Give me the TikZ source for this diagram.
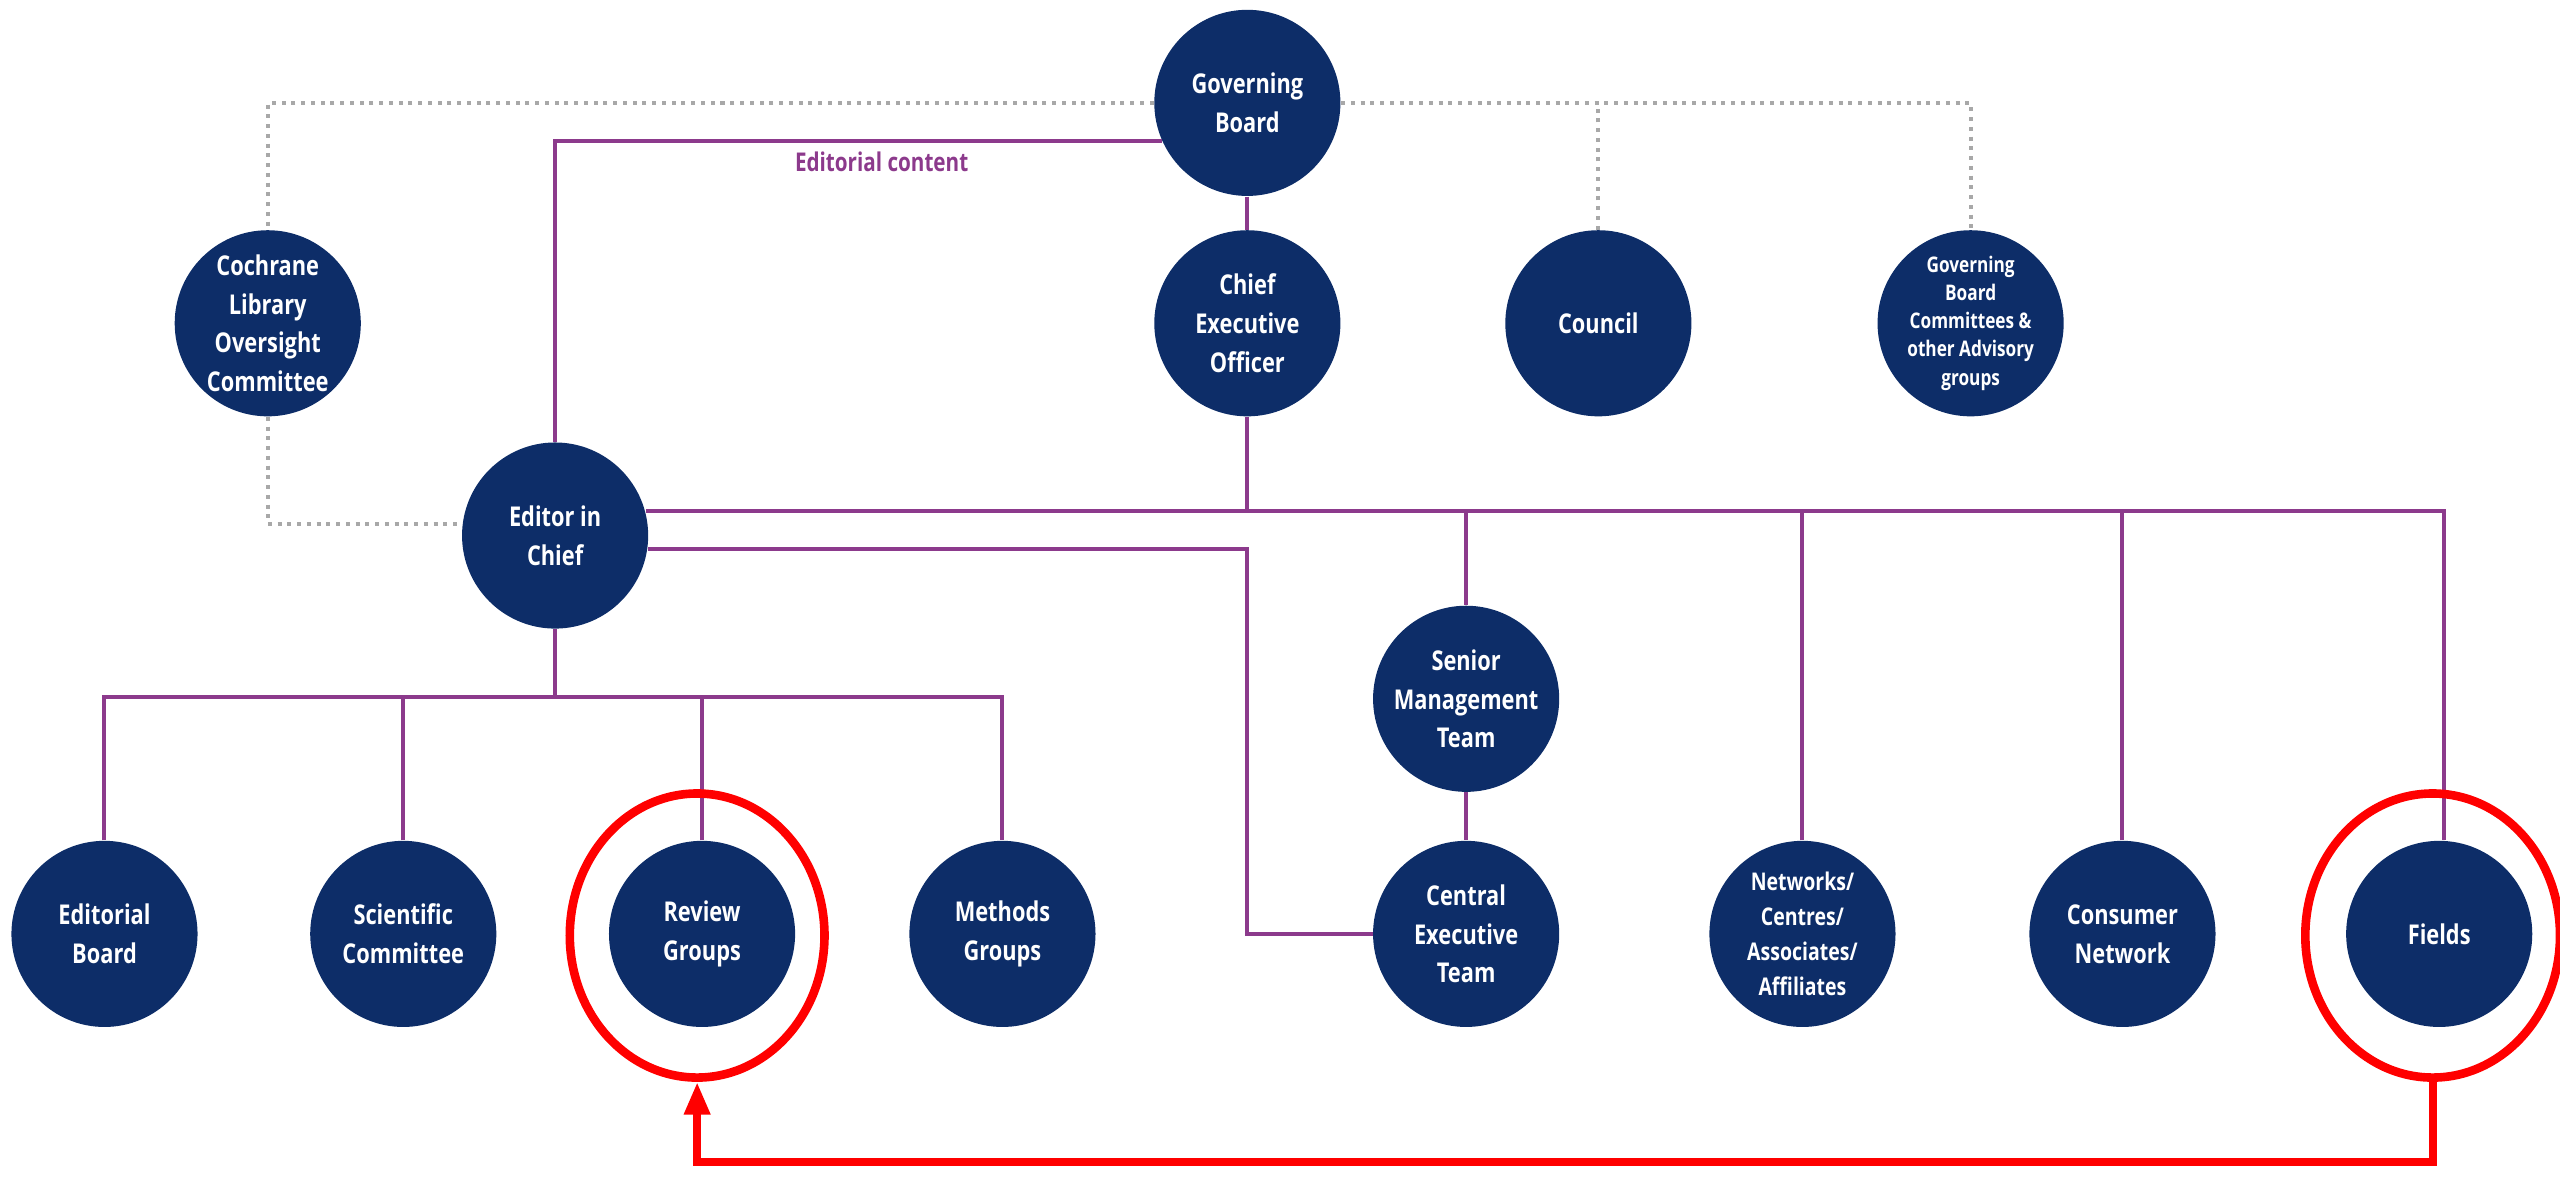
\documentclass[tikz,border=0pt]{standalone}
\usepackage{fontspec}
\setmainfont{Open Sans}[FakeStretch=0.8]
\usetikzlibrary{shapes.geometric,arrows.meta}
\definecolor{navy}{HTML}{0D2D68}
\definecolor{plum}{HTML}{8C3A8C}
\definecolor{dotgray}{HTML}{A8A8A8}

\tikzset{
  org/.style={circle, fill=navy, text=white, inner sep=0pt, minimum size=22.8mm,
    align=center, font=\fontsize{9.5}{13.5}\selectfont\bfseries},
  link/.style={plum, line width=1.4pt},
  dots/.style={dotgray, dotted, line width=1.4pt},
  hl/.style={ellipse, draw=red, line width=3pt, minimum width=31.2mm, minimum height=34.8mm},
  back/.style={red, line width=2.8pt, -{Triangle[length=4mm, width=3mm]}}
}

\begin{document}
\begin{tikzpicture}[x=0.2mm, y=-0.2mm]
        \useasboundingbox (0,0) rectangle (1568,722);

        % top row
        \node[org] (gb) at (764, 63) {Governing\\Board};
        \node[org] (ceo) at (764, 198) {Chief\\Executive\\Officer};
        \node[org] (cou) at (979, 198) {Council};
        \node[org, font=\fontsize{7.5}{9.8}\selectfont\bfseries] (gbc) at (1207, 198) {Governing\\Board\\Committees \&\\other Advisory\\groups};
        \node[org] (clo) at (164, 198) {Cochrane\\Library\\Oversight\\Committee};
        \node[org] (eic) at (340, 328) {Editor in\\Chief};
        \node[org] (smt) at (898, 428) {Senior\\Management\\Team};

        % bottom row
        \node[org] (eb) at (64, 572) {Editorial\\Board};
        \node[org] (sc) at (247, 572) {Scientific\\Committee};
        \node[org] (rg) at (430, 572) {Review\\Groups};
        \node[org] (mg) at (614, 572) {Methods\\Groups};
        \node[org] (cet) at (898, 572) {Central\\Executive\\Team};
        \node[org, font=\fontsize{8.5}{12.3}\selectfont\bfseries] (net) at (1104, 572) {Networks/\\Centres/\\Associates/\\Affiliates};
        \node[org] (con) at (1300, 572) {Consumer\\Network};
        \node[org] (fld) at (1494, 572) {Fields};

        % advisory links
        \draw[dots] (gb) -| (clo);
        \draw[dots] (gb) -| (gbc);
        \draw[dots] (cou) -- (cou |- gb);
        \draw[dots] (clo) |- (eic.173);

        % editorial content
        \draw[link] (gb.204) -| (eic);
        \node[text=plum, font=\fontsize{9}{11}\selectfont\bfseries] (ec) at (540, 99) {Editorial content};

        % executive line
        \draw[link] (gb) -- (ceo);
        \draw[link] (eic.15) -| (fld.87);
        \draw[link] (ceo) -- (ceo |- eic.15);
        \draw[link] (smt) -- (smt |- eic.15);
        \draw[link] (net) -- (net |- eic.15);
        \draw[link] (con) -- (con |- eic.15);
        \draw[link] (smt) -- (cet);
        \draw[link] (eic.352) -| (ceo |- cet) -- (cet);

        % editorial line
        \coordinate (ebus) at (340, 427);
        \draw[link] (eic) -- (ebus);
        \draw[link] (eb) |- (ebus) -| (mg);
        \draw[link] (sc) -- (sc |- ebus);
        \draw[link] (rg) -- (rg |- ebus);

        % highlight
        \node[hl] (rgh) at (427, 573) {};
        \node[hl] (fldh) at (1490, 573) {};
        \coordinate (low) at (0, 712);
        \draw[back] (fldh) |- (low -| rgh) -- (rgh);
\end{tikzpicture}
\end{document}
